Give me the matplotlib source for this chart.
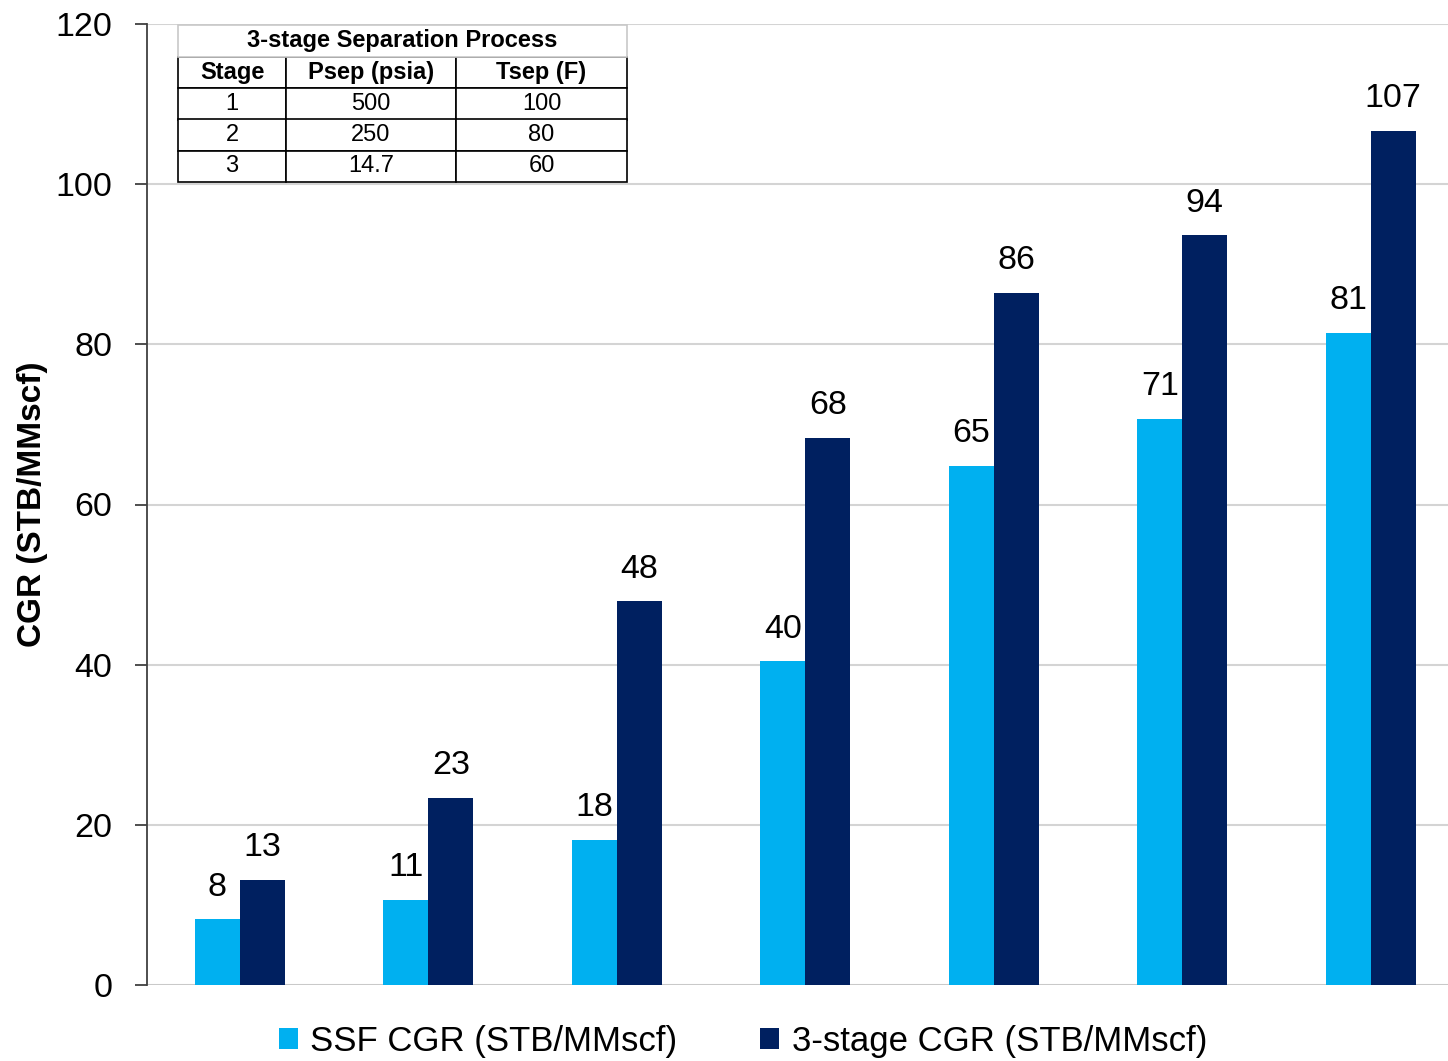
import matplotlib
matplotlib.use("Agg")
import matplotlib.pyplot as plt
import numpy as np

plt.rcParams['font.family'] = ['Liberation Sans', 'DejaVu Sans']

# CGR by case (STB/MMscf)
groups = ["1", "2", "3", "4", "5", "6", "7"]
ssf_cgr = [8.2, 10.6, 18.1, 40.4, 64.8, 70.7, 81.4]
three_stage_cgr = [13.1, 23.4, 47.9, 68.3, 86.4, 93.6, 106.7]
series_names = ["SSF CGR (STB/MMscf)", "3-stage CGR (STB/MMscf)"]
series_colors = ["#00B0F0", "#002060"]

y_ticks = [0, 20, 40, 60, 80, 100, 120]
y_label = "CGR (STB/MMscf)"

# Separator conditions
table_title = "3-stage Separation Process"
table_header = ["Stage", "Psep (psia)", "Tsep (F)"]
stages = ["1", "2", "3"]
psep = ["500", "250", "14.7"]
tsep = ["100", "80", "60"]

fig = plt.figure(figsize=(14.48, 10.61), dpi=100)
ax = fig.add_axes([147 / 1448, 76 / 1061, 1301 / 1448, 961 / 1061])

x = np.arange(len(groups))
w = 0.239
b1 = ax.bar(x - w / 2, ssf_cgr, w, color=series_colors[0], label=series_names[0], zorder=3)
b2 = ax.bar(x + w / 2, three_stage_cgr, w, color=series_colors[1], label=series_names[1], zorder=3)
for bars in (b1, b2):
    ax.bar_label(bars, fmt="%.0f", padding=12, fontsize=24.5, color="black")

ax.set_xlim(-0.493, 6.41)
ax.set_ylim(0, 120)
ax.set_yticks(y_ticks)
ax.set_xticks([])
ax.grid(axis="y", color="#d4d4d4", linewidth=1.5, zorder=0)
ax.axhline(0, color="#c8c8c8", linewidth=2, zorder=2)
for s in ("top", "right", "bottom"):
    ax.spines[s].set_visible(False)
ax.spines["left"].set_color("#404040")
ax.spines["left"].set_linewidth(1.3)
ax.tick_params(axis="y", direction="out", length=9, width=1.3, color="#404040",
               labelsize=24.5, pad=16)
ax.set_ylabel(y_label, fontsize=24, fontweight="bold")
ax.yaxis.set_label_coords(-0.076, 0.5)

leg = ax.legend(loc="center", bbox_to_anchor=(0.458, -0.059), ncol=2, frameon=False,
                fontsize=25, handlelength=0.55, handleheight=0.55, handletextpad=0.35,
                columnspacing=2.4)

# Inset table of separator stages
tax = fig.add_axes([178 / 1448, (1061 - 182) / 1061, 449 / 1448, 157 / 1061])
tax.set_axis_off()
col_w = [108 / 449, 170 / 449, 171 / 449]
rows = [table_header] + [list(r) for r in zip(stages, psep, tsep)]
tbl = tax.table(cellText=rows, colWidths=col_w, cellLoc="center",
                bbox=[0, 0, 1, 125 / 157])
tbl.auto_set_font_size(False)
for (r, c), cell in tbl.get_celld().items():
    cell.set_edgecolor("black")
    cell.set_linewidth(1.2)
    cell.set_facecolor("white")
    cell.get_text().set_fontsize(17)
    if r == 0:
        cell.get_text().set_fontweight("bold")
# Title row with light outline
tax.add_patch(plt.Rectangle((0, 125 / 157), 1, 32 / 157, transform=tax.transAxes,
                            facecolor="white", edgecolor="#c8c8c8", linewidth=1.2,
                            clip_on=False))
tax.text(0.5, 141 / 157, table_title, transform=tax.transAxes, ha="center", va="center",
         fontsize=17, fontweight="bold")

fig.savefig("out.png", dpi=100)
